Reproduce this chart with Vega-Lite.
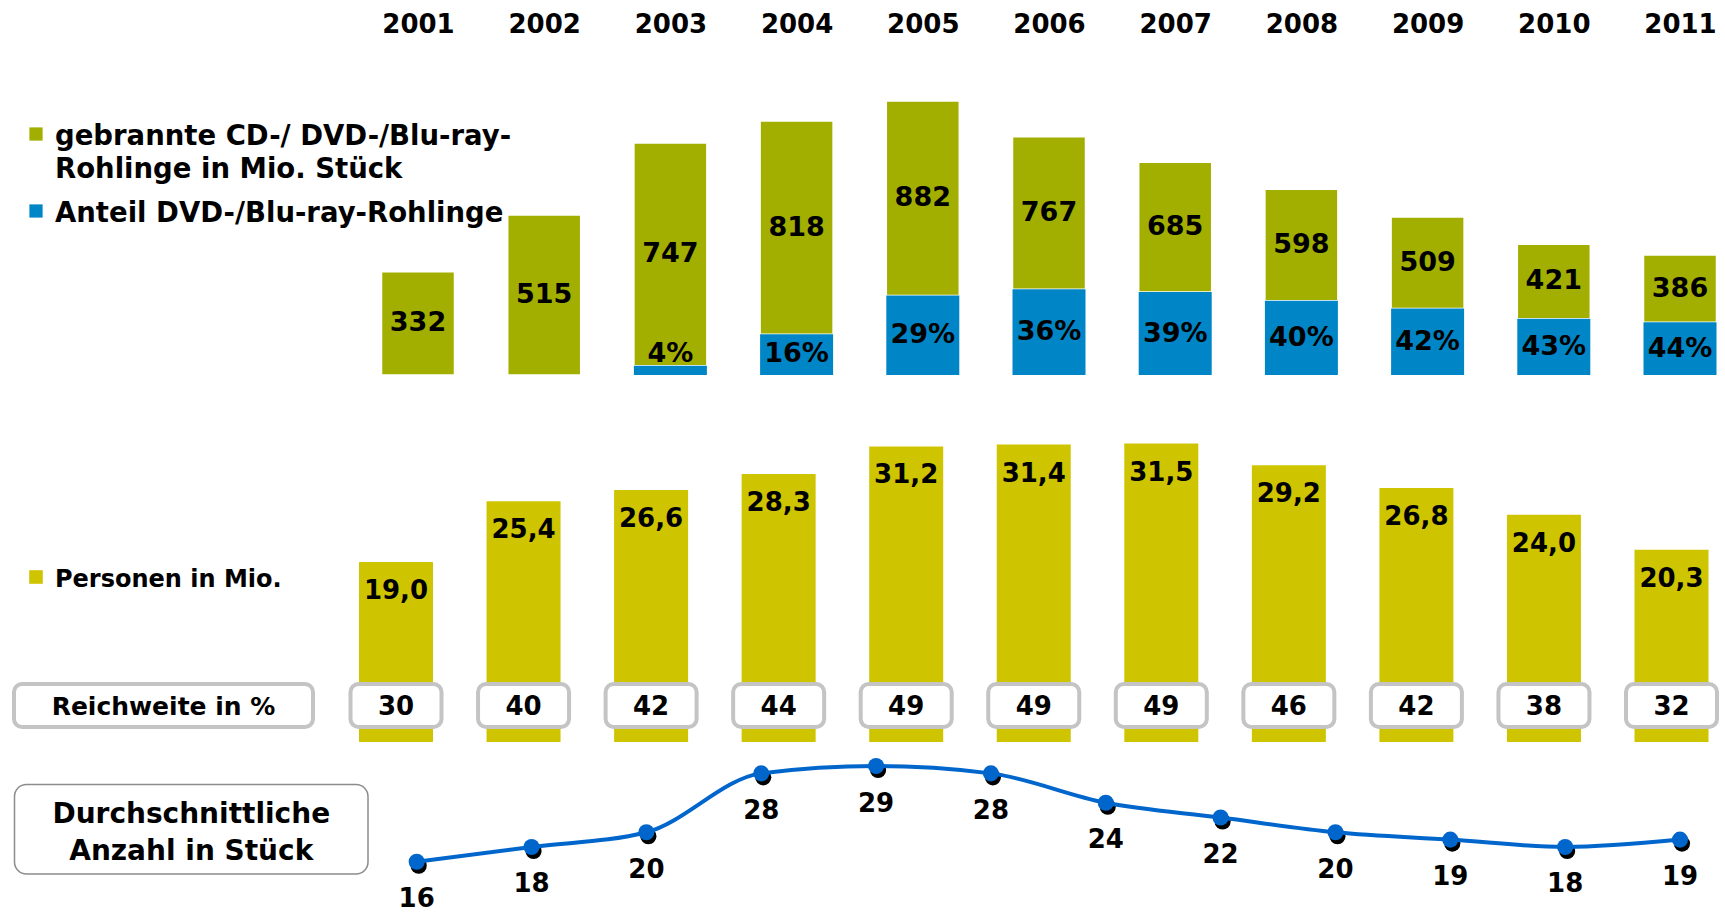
{
  "$schema": "https://vega.github.io/schema/vega-lite/v6.json",
  "width": 1725,
  "height": 913,
  "autosize": {"type": "none"},
  "padding": 0,
  "background": "white",
  "config": {"view": {"stroke": null}},
  "datasets": {
    "rohlinge": [
      {"jahr": 2001, "stueck": 332, "anteil": 0},
      {"jahr": 2002, "stueck": 515, "anteil": 0},
      {"jahr": 2003, "stueck": 747, "anteil": 4},
      {"jahr": 2004, "stueck": 818, "anteil": 16},
      {"jahr": 2005, "stueck": 882, "anteil": 29},
      {"jahr": 2006, "stueck": 767, "anteil": 36},
      {"jahr": 2007, "stueck": 685, "anteil": 39},
      {"jahr": 2008, "stueck": 598, "anteil": 40},
      {"jahr": 2009, "stueck": 509, "anteil": 42},
      {"jahr": 2010, "stueck": 421, "anteil": 43},
      {"jahr": 2011, "stueck": 386, "anteil": 44}
    ],
    "personen": [
      {"jahr": 2001, "personen": 19.0, "reichweite": 30},
      {"jahr": 2002, "personen": 25.4, "reichweite": 40},
      {"jahr": 2003, "personen": 26.6, "reichweite": 42},
      {"jahr": 2004, "personen": 28.3, "reichweite": 44},
      {"jahr": 2005, "personen": 31.2, "reichweite": 49},
      {"jahr": 2006, "personen": 31.4, "reichweite": 49},
      {"jahr": 2007, "personen": 31.5, "reichweite": 49},
      {"jahr": 2008, "personen": 29.2, "reichweite": 46},
      {"jahr": 2009, "personen": 26.8, "reichweite": 42},
      {"jahr": 2010, "personen": 24.0, "reichweite": 38},
      {"jahr": 2011, "personen": 20.3, "reichweite": 32}
    ],
    "anzahl": [
      {"jahr": 2000, "anzahl": 16},
      {"jahr": 2001, "anzahl": 18},
      {"jahr": 2002, "anzahl": 20},
      {"jahr": 2003, "anzahl": 28},
      {"jahr": 2004, "anzahl": 29},
      {"jahr": 2005, "anzahl": 28},
      {"jahr": 2006, "anzahl": 24},
      {"jahr": 2007, "anzahl": 22},
      {"jahr": 2008, "anzahl": 20},
      {"jahr": 2009, "anzahl": 19},
      {"jahr": 2010, "anzahl": 18},
      {"jahr": 2011, "anzahl": 19}
    ],
    "legende": [
      {"serie": "gebrannte CD-/ DVD-/Blu-ray-\nRohlinge in Mio. Stück", "gruppe": "oben"},
      {"serie": "Anteil DVD-/Blu-ray-Rohlinge", "gruppe": "oben"},
      {"serie": "Personen in Mio.", "gruppe": "mitte"}
    ],
    "kopfzeilen": [
      {"kennzahl": "Reichweite in %"},
      {"kennzahl": "Durchschnittliche\nAnzahl in Stück"}
    ]
  },
  "resolve": {
    "scale": {"x": "independent", "y": "independent"},
    "axis": {"x": "independent", "y": "independent"}
  },
  "layer": [
    {
      "data": {"name": "rohlinge"},
      "transform": [{"calculate": "datum.stueck * datum.anteil / 100", "as": "dvd"}],
      "mark": {"type": "bar", "width": 73, "stroke": "white", "strokeWidth": 1.5},
      "encoding": {
        "x": {
          "field": "jahr", "type": "quantitative",
          "scale": {"domain": [2001, 2011], "range": [418, 1680], "padding": 0},
          "axis": {
            "orient": "top", "values": [2001, 2002, 2003, 2004, 2005, 2006, 2007, 2008, 2009, 2010, 2011],
            "format": "d", "domain": false, "ticks": false, "tickSize": 0, "grid": false,
            "labelFont": "DejaVu Sans", "labelFontWeight": "bold", "labelFontSize": 26,
            "labelColor": "#000000", "labelPadding": 0, "offset": -37, "title": null,
            "labelFlush": false, "labelOverlap": false
          }
        },
        "y": {"field": "stueck", "type": "quantitative", "scale": {"domain": [0, 882], "range": [375, 101]}, "axis": null},
        "y2": {"field": "dvd"},
        "color": {
          "datum": "gebrannte CD-/ DVD-/Blu-ray-\nRohlinge in Mio. Stück", "type": "nominal",
          "scale": {"domain": ["gebrannte CD-/ DVD-/Blu-ray-\nRohlinge in Mio. Stück", "Anteil DVD-/Blu-ray-Rohlinge", "Personen in Mio."], "range": ["#A3AF00", "#0086C6", "#CFC400"]},
          "legend": null
        }
      }
    },
    {
      "data": {"name": "rohlinge"},
      "transform": [{"calculate": "datum.stueck * datum.anteil / 100", "as": "dvd"}, {"filter": "datum.anteil > 0"}],
      "mark": {"type": "bar", "width": 73},
      "encoding": {
        "x": {"field": "jahr", "type": "quantitative", "scale": {"domain": [2001, 2011], "range": [418, 1680], "padding": 0}, "axis": null},
        "y": {"field": "dvd", "type": "quantitative", "scale": {"domain": [0, 882], "range": [375, 101]}, "axis": null},
        "color": {
          "datum": "Anteil DVD-/Blu-ray-Rohlinge", "type": "nominal",
          "scale": {"domain": ["gebrannte CD-/ DVD-/Blu-ray-\nRohlinge in Mio. Stück", "Anteil DVD-/Blu-ray-Rohlinge", "Personen in Mio."], "range": ["#A3AF00", "#0086C6", "#CFC400"]},
          "legend": null
        }
      }
    },
    {
      "data": {"name": "rohlinge"},
      "transform": [
        {"calculate": "datum.stueck * datum.anteil / 100", "as": "dvd"},
        {"calculate": "(datum.stueck + datum.dvd) / 2", "as": "mitte"}
      ],
      "mark": {"type": "text", "font": "DejaVu Sans", "fontWeight": "bold", "fontSize": 27, "baseline": "middle", "align": "center", "color": "#000000"},
      "encoding": {
        "x": {"field": "jahr", "type": "quantitative", "scale": {"domain": [2001, 2011], "range": [418, 1680], "padding": 0}, "axis": null},
        "y": {"field": "mitte", "type": "quantitative", "scale": {"domain": [0, 882], "range": [375, 101]}, "axis": null},
        "text": {"field": "stueck", "type": "quantitative", "format": "d"}
      }
    },
    {
      "data": {"name": "rohlinge"},
      "transform": [
        {"filter": "datum.anteil > 0"},
        {"calculate": "datum.stueck * datum.anteil / 100", "as": "dvd"},
        {"calculate": "max(datum.dvd / 2, 67)", "as": "lage"},
        {"calculate": "datum.anteil + '%'", "as": "prozent"}
      ],
      "mark": {"type": "text", "font": "DejaVu Sans", "fontWeight": "bold", "fontSize": 27, "baseline": "middle", "align": "center", "color": "#000000"},
      "encoding": {
        "x": {"field": "jahr", "type": "quantitative", "scale": {"domain": [2001, 2011], "range": [418, 1680], "padding": 0}, "axis": null},
        "y": {"field": "lage", "type": "quantitative", "scale": {"domain": [0, 882], "range": [375, 101]}, "axis": null},
        "text": {"field": "prozent", "type": "nominal"}
      }
    },
    {
      "data": {"name": "personen"},
      "mark": {"type": "bar", "width": 74},
      "encoding": {
        "x": {"field": "jahr", "type": "quantitative", "scale": {"domain": [2001, 2011], "range": [396, 1671.5], "padding": 0}, "axis": null},
        "y": {"field": "personen", "type": "quantitative", "scale": {"domain": [0, 19], "range": [742, 562]}, "axis": null},
        "color": {
          "datum": "Personen in Mio.", "type": "nominal",
          "scale": {"domain": ["gebrannte CD-/ DVD-/Blu-ray-\nRohlinge in Mio. Stück", "Anteil DVD-/Blu-ray-Rohlinge", "Personen in Mio."], "range": ["#A3AF00", "#0086C6", "#CFC400"]},
          "legend": null
        }
      }
    },
    {
      "data": {"name": "personen"},
      "transform": [{"calculate": "replace(format(datum.personen, '.1f'), '.', ',')", "as": "beschriftung"}],
      "mark": {"type": "text", "font": "DejaVu Sans", "fontWeight": "bold", "fontSize": 26, "baseline": "middle", "align": "center", "dy": 29, "color": "#000000"},
      "encoding": {
        "x": {"field": "jahr", "type": "quantitative", "scale": {"domain": [2001, 2011], "range": [396, 1671.5], "padding": 0}, "axis": null},
        "y": {"field": "personen", "type": "quantitative", "scale": {"domain": [0, 19], "range": [742, 562]}, "axis": null},
        "text": {"field": "beschriftung", "type": "nominal"}
      }
    },
    {
      "data": {"name": "personen"},
      "mark": {"type": "rect", "width": 91, "fill": "white", "stroke": "#C4C4C4", "strokeWidth": 4, "cornerRadius": 8},
      "encoding": {
        "x": {"field": "jahr", "type": "quantitative", "scale": {"domain": [2001, 2011], "range": [396, 1671.5], "padding": 0}, "axis": null},
        "y": {"datum": "Reichweite in %", "type": "nominal", "scale": {"type": "band", "domain": ["Reichweite in %"], "range": [684, 727], "paddingInner": 0, "paddingOuter": 0}, "axis": null}
      }
    },
    {
      "data": {"name": "personen"},
      "mark": {"type": "text", "font": "DejaVu Sans", "fontWeight": "bold", "fontSize": 26, "baseline": "middle", "align": "center", "dy": 1, "color": "#000000"},
      "encoding": {
        "x": {"field": "jahr", "type": "quantitative", "scale": {"domain": [2001, 2011], "range": [396, 1671.5], "padding": 0}, "axis": null},
        "y": {"datum": "Reichweite in %", "type": "nominal", "scale": {"type": "band", "domain": ["Reichweite in %"], "range": [684, 727], "paddingInner": 0, "paddingOuter": 0}, "axis": null},
        "text": {"field": "reichweite", "type": "quantitative", "format": "d"}
      }
    },
    {
      "data": {"name": "kopfzeilen"},
      "transform": [{"filter": "datum.kennzahl == 'Reichweite in %'"}],
      "mark": {"type": "rect", "fill": "white", "stroke": "#C4C4C4", "strokeWidth": 4, "cornerRadius": 8},
      "encoding": {
        "x": {"field": "kennzahl", "type": "nominal", "scale": {"type": "band", "domain": ["Reichweite in %"], "range": [14, 313], "paddingInner": 0, "paddingOuter": 0}, "axis": null},
        "y": {"field": "kennzahl", "type": "nominal", "scale": {"type": "band", "domain": ["Reichweite in %"], "range": [684, 727], "paddingInner": 0, "paddingOuter": 0}, "axis": null}
      }
    },
    {
      "data": {"name": "kopfzeilen"},
      "transform": [{"filter": "datum.kennzahl == 'Reichweite in %'"}],
      "mark": {"type": "text", "font": "DejaVu Sans", "fontWeight": "bold", "fontSize": 25, "baseline": "middle", "align": "center", "dy": 1, "color": "#000000"},
      "encoding": {
        "x": {"field": "kennzahl", "type": "nominal", "scale": {"type": "band", "domain": ["Reichweite in %"], "range": [14, 313], "paddingInner": 0, "paddingOuter": 0}, "axis": null},
        "y": {"field": "kennzahl", "type": "nominal", "scale": {"type": "band", "domain": ["Reichweite in %"], "range": [684, 727], "paddingInner": 0, "paddingOuter": 0}, "axis": null},
        "text": {"field": "kennzahl", "type": "nominal"}
      }
    },
    {
      "data": {"name": "kopfzeilen"},
      "transform": [{"filter": "datum.kennzahl != 'Reichweite in %'"}],
      "mark": {"type": "rect", "fill": "white", "stroke": "#8C8C8C", "strokeWidth": 1.5, "cornerRadius": 12},
      "encoding": {
        "x": {"field": "kennzahl", "type": "nominal", "scale": {"type": "band", "range": [14.5, 368], "paddingInner": 0, "paddingOuter": 0}, "axis": null},
        "y": {"field": "kennzahl", "type": "nominal", "scale": {"type": "band", "range": [784.5, 874], "paddingInner": 0, "paddingOuter": 0}, "axis": null}
      }
    },
    {
      "data": {"name": "kopfzeilen"},
      "transform": [{"filter": "datum.kennzahl != 'Reichweite in %'"}],
      "mark": {"type": "text", "font": "DejaVu Sans", "fontWeight": "bold", "fontSize": 28, "baseline": "middle", "align": "center", "lineBreak": "\n", "lineHeight": 37, "dy": -14, "color": "#000000"},
      "encoding": {
        "x": {"field": "kennzahl", "type": "nominal", "scale": {"type": "band", "range": [14.5, 368], "paddingInner": 0, "paddingOuter": 0}, "axis": null},
        "y": {"field": "kennzahl", "type": "nominal", "scale": {"type": "band", "range": [784.5, 874], "paddingInner": 0, "paddingOuter": 0}, "axis": null},
        "text": {"field": "kennzahl", "type": "nominal"}
      }
    },
    {
      "data": {"name": "anzahl"},
      "mark": {"type": "point", "filled": true, "shape": "circle", "size": 260, "color": "#000000", "opacity": 1, "xOffset": 2, "yOffset": 4},
      "encoding": {
        "x": {"field": "jahr", "type": "quantitative", "scale": {"domain": [2000, 2011], "range": [416.7, 1680], "padding": 0}, "axis": null},
        "y": {"field": "anzahl", "type": "quantitative", "scale": {"domain": [16, 29], "range": [861.7, 766]}, "axis": null}
      }
    },
    {
      "data": {"name": "anzahl"},
      "mark": {"type": "line", "interpolate": "monotone", "strokeWidth": 4, "color": "#0066CC"},
      "encoding": {
        "x": {"field": "jahr", "type": "quantitative", "scale": {"domain": [2000, 2011], "range": [416.7, 1680], "padding": 0}, "axis": null},
        "y": {"field": "anzahl", "type": "quantitative", "scale": {"domain": [16, 29], "range": [861.7, 766]}, "axis": null}
      }
    },
    {
      "data": {"name": "anzahl"},
      "mark": {"type": "point", "filled": true, "shape": "circle", "size": 260, "color": "#0066CC", "opacity": 1},
      "encoding": {
        "x": {"field": "jahr", "type": "quantitative", "scale": {"domain": [2000, 2011], "range": [416.7, 1680], "padding": 0}, "axis": null},
        "y": {"field": "anzahl", "type": "quantitative", "scale": {"domain": [16, 29], "range": [861.7, 766]}, "axis": null}
      }
    },
    {
      "data": {"name": "anzahl"},
      "mark": {"type": "text", "font": "DejaVu Sans", "fontWeight": "bold", "fontSize": 26, "baseline": "middle", "align": "center", "dy": 37.5, "color": "#000000"},
      "encoding": {
        "x": {"field": "jahr", "type": "quantitative", "scale": {"domain": [2000, 2011], "range": [416.7, 1680], "padding": 0}, "axis": null},
        "y": {"field": "anzahl", "type": "quantitative", "scale": {"domain": [16, 29], "range": [861.7, 766]}, "axis": null},
        "text": {"field": "anzahl", "type": "quantitative", "format": "d"}
      }
    },
    {
      "data": {"name": "legende"},
      "transform": [{"filter": "datum.gruppe == 'oben'"}],
      "mark": {"type": "point", "shape": "square", "filled": true, "size": 175, "opacity": 1},
      "encoding": {
        "x": {"field": "serie", "type": "nominal", "scale": {"type": "point", "range": [36, 36], "padding": 0}, "axis": null},
        "y": {"field": "serie", "type": "nominal", "scale": {"type": "point", "domain": ["gebrannte CD-/ DVD-/Blu-ray-\nRohlinge in Mio. Stück", "Anteil DVD-/Blu-ray-Rohlinge"], "range": [134, 211], "padding": 0}, "axis": null},
        "color": {
          "field": "serie", "type": "nominal",
          "scale": {"domain": ["gebrannte CD-/ DVD-/Blu-ray-\nRohlinge in Mio. Stück", "Anteil DVD-/Blu-ray-Rohlinge", "Personen in Mio."], "range": ["#A3AF00", "#0086C6", "#CFC400"]},
          "legend": null
        }
      }
    },
    {
      "data": {"name": "legende"},
      "transform": [{"filter": "datum.gruppe == 'oben'"}],
      "mark": {"type": "text", "font": "DejaVu Sans", "fontWeight": "bold", "fontSize": 27.5, "align": "left", "baseline": "alphabetic", "dx": 19, "dy": 10.5, "lineBreak": "\n", "lineHeight": 33, "color": "#000000"},
      "encoding": {
        "x": {"field": "serie", "type": "nominal", "scale": {"type": "point", "range": [36, 36], "padding": 0}, "axis": null},
        "y": {"field": "serie", "type": "nominal", "scale": {"type": "point", "domain": ["gebrannte CD-/ DVD-/Blu-ray-\nRohlinge in Mio. Stück", "Anteil DVD-/Blu-ray-Rohlinge"], "range": [134, 211], "padding": 0}, "axis": null},
        "text": {"field": "serie", "type": "nominal"}
      }
    },
    {
      "data": {"name": "legende"},
      "transform": [{"filter": "datum.gruppe == 'mitte'"}],
      "mark": {"type": "point", "shape": "square", "filled": true, "size": 185, "opacity": 1},
      "encoding": {
        "x": {"field": "serie", "type": "nominal", "scale": {"type": "point", "range": [36, 36], "padding": 0}, "axis": null},
        "y": {"field": "serie", "type": "nominal", "scale": {"type": "point", "range": [577, 577], "padding": 0}, "axis": null},
        "color": {
          "field": "serie", "type": "nominal",
          "scale": {"domain": ["gebrannte CD-/ DVD-/Blu-ray-\nRohlinge in Mio. Stück", "Anteil DVD-/Blu-ray-Rohlinge", "Personen in Mio."], "range": ["#A3AF00", "#0086C6", "#CFC400"]},
          "legend": null
        }
      }
    },
    {
      "data": {"name": "legende"},
      "transform": [{"filter": "datum.gruppe == 'mitte'"}],
      "mark": {"type": "text", "font": "DejaVu Sans", "fontWeight": "bold", "fontSize": 24, "align": "left", "baseline": "alphabetic", "dx": 19, "dy": 9.5, "color": "#000000"},
      "encoding": {
        "x": {"field": "serie", "type": "nominal", "scale": {"type": "point", "range": [36, 36], "padding": 0}, "axis": null},
        "y": {"field": "serie", "type": "nominal", "scale": {"type": "point", "range": [577, 577], "padding": 0}, "axis": null},
        "text": {"field": "serie", "type": "nominal"}
      }
    }
  ]
}
